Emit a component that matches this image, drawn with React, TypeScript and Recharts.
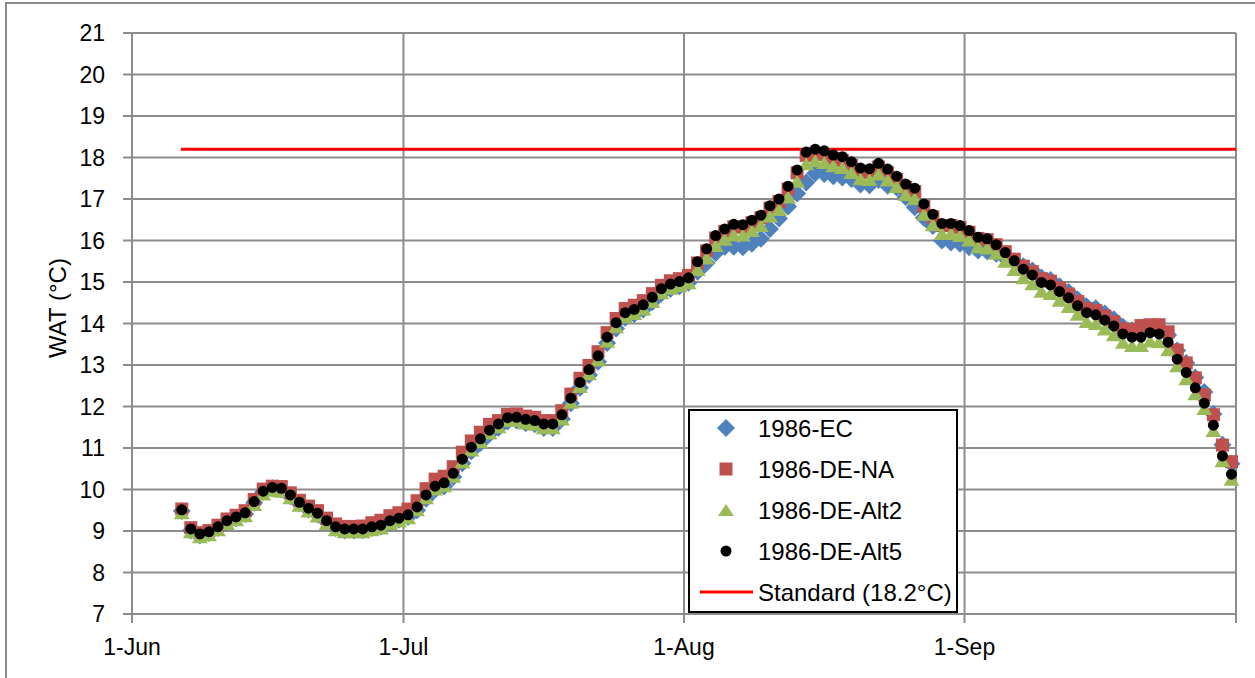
import React from "react";
import {CartesianGrid, Legend, Scatter, ScatterChart, XAxis, YAxis} from "recharts";

// x axis: days since 1-Jun, ticks on the first of each month
const monthTicks = [0, 30, 61, 92, 122]
const monthLabels = ['1-Jun', '1-Jul', '1-Aug', '1-Sep', '']
const tempTicks = [7, 8, 9, 10, 11, 12, 13, 14, 15, 16, 17, 18, 19, 20, 21]

// daily values from 6-Jun to 30-Sep (plotted at noon)
const firstDay = 5.5

const ec = [
  9.48, 9.01, 8.89, 8.95, 9.07, 9.22, 9.31, 9.41, 9.68, 9.94,
  10.03, 10.00, 9.84, 9.66, 9.52, 9.40, 9.22, 9.07, 9.01, 9.01,
  9.02, 9.07, 9.11, 9.21, 9.27, 9.34, 9.50, 9.78, 10.00, 10.08,
  10.30, 10.63, 10.92, 11.12, 11.34, 11.49, 11.64, 11.66, 11.60, 11.57,
  11.48, 11.48, 11.70, 12.08, 12.45, 12.76, 13.08, 13.53, 13.88, 14.14,
  14.23, 14.34, 14.52, 14.72, 14.83, 14.90, 14.98, 15.25, 15.46, 15.70,
  15.85, 15.85, 15.84, 15.92, 16.04, 16.28, 16.53, 16.82, 17.13, 17.40,
  17.62, 17.60, 17.55, 17.52, 17.48, 17.35, 17.33, 17.46, 17.32, 17.28,
  17.05, 16.80, 16.55, 16.35, 16.00, 15.95, 15.92, 15.84, 15.76, 15.74,
  15.68, 15.58, 15.50, 15.38, 15.28, 15.11, 15.05, 14.90, 14.76, 14.58,
  14.41, 14.37, 14.24, 14.10, 13.92, 13.84, 13.84, 13.88, 13.88, 13.72,
  13.35, 13.05, 12.70, 12.35, 11.82, 11.08, 10.62
]

const deNa = [
  9.53, 9.08, 8.96, 9.01, 9.14, 9.29, 9.38, 9.49, 9.76, 10.01,
  10.08, 10.07, 9.92, 9.74, 9.60, 9.49, 9.31, 9.17, 9.11, 9.11,
  9.12, 9.20, 9.26, 9.37, 9.44, 9.53, 9.73, 10.02, 10.25, 10.32,
  10.55, 10.90, 11.17, 11.38, 11.57, 11.66, 11.81, 11.82, 11.77, 11.74,
  11.66, 11.66, 11.90, 12.30, 12.68, 12.99, 13.32, 13.78, 14.12, 14.36,
  14.44, 14.55, 14.72, 14.92, 15.03, 15.08, 15.16, 15.46, 15.75, 16.06,
  16.22, 16.33, 16.32, 16.43, 16.55, 16.78, 16.94, 17.24, 17.63, 18.05,
  18.10, 18.07, 17.97, 17.93, 17.81, 17.66, 17.64, 17.77, 17.63, 17.47,
  17.28, 17.18, 16.82, 16.57, 16.36, 16.36, 16.31, 16.20, 16.05, 16.02,
  15.90, 15.73, 15.55, 15.38, 15.25, 15.08, 15.02, 14.86, 14.71, 14.53,
  14.36, 14.31, 14.18, 14.04, 13.87, 13.85, 13.95, 13.97, 13.97, 13.80,
  13.36, 13.05, 12.69, 12.28, 11.80, 11.07, 10.67
]

const deAlt2 = [
  9.44, 8.98, 8.86, 8.91, 9.03, 9.18, 9.27, 9.37, 9.64, 9.89,
  9.98, 9.96, 9.80, 9.62, 9.48, 9.36, 9.18, 9.03, 8.98, 8.98,
  8.98, 9.03, 9.07, 9.18, 9.24, 9.32, 9.51, 9.80, 10.01, 10.09,
  10.32, 10.66, 10.95, 11.15, 11.36, 11.51, 11.66, 11.66, 11.60, 11.57,
  11.49, 11.49, 11.70, 12.10, 12.48, 12.79, 13.12, 13.57, 13.92, 14.16,
  14.24, 14.35, 14.53, 14.74, 14.85, 14.91, 14.98, 15.30, 15.58, 15.88,
  16.03, 16.14, 16.13, 16.24, 16.36, 16.59, 16.75, 17.05, 17.43, 17.85,
  17.92, 17.88, 17.80, 17.76, 17.64, 17.49, 17.47, 17.60, 17.46, 17.30,
  17.11, 17.01, 16.63, 16.38, 16.17, 16.17, 16.12, 16.01, 15.85, 15.82,
  15.69, 15.50, 15.30, 15.10, 14.96, 14.78, 14.72, 14.56, 14.41, 14.22,
  14.05, 14.00, 13.87, 13.73, 13.55, 13.47, 13.47, 13.58, 13.56, 13.37,
  12.98, 12.67, 12.31, 11.95, 11.42, 10.69, 10.25
]

const deAlt5 = [
  9.51, 9.05, 8.93, 8.98, 9.10, 9.25, 9.34, 9.44, 9.71, 9.96,
  10.05, 10.03, 9.87, 9.69, 9.55, 9.43, 9.25, 9.10, 9.05, 9.05,
  9.05, 9.10, 9.14, 9.25, 9.31, 9.39, 9.58, 9.87, 10.08, 10.16,
  10.39, 10.73, 11.02, 11.22, 11.43, 11.58, 11.73, 11.74, 11.69, 11.66,
  11.58, 11.58, 11.80, 12.20, 12.58, 12.89, 13.22, 13.67, 14.02, 14.26,
  14.34, 14.45, 14.63, 14.84, 14.95, 15.01, 15.10, 15.49, 15.80, 16.12,
  16.28, 16.39, 16.38, 16.49, 16.61, 16.84, 17.00, 17.31, 17.70, 18.13,
  18.20, 18.16, 18.06, 18.02, 17.90, 17.75, 17.73, 17.86, 17.72, 17.55,
  17.36, 17.26, 16.88, 16.63, 16.41, 16.41, 16.36, 16.24, 16.08, 16.04,
  15.90, 15.71, 15.51, 15.31, 15.17, 14.99, 14.93, 14.77, 14.62, 14.43,
  14.26, 14.21, 14.08, 13.94, 13.75, 13.67, 13.67, 13.78, 13.75, 13.55,
  13.14, 12.82, 12.45, 12.08, 11.55, 10.81, 10.37
]

const standardValue = 18.2
const standardDays = [5.4, 122]

const seriesNames = ['1986-EC', '1986-DE-NA', '1986-DE-Alt2', '1986-DE-Alt5', 'Standard (18.2°C)']

const FONT = "'Liberation Sans', Arial, sans-serif"
const GRID = '#8C8C8C'
const BLUE = '#4F81BD'
const RED = '#C0504D'
const GREEN = '#9BBB59'

function toPoints(values: number[]) {
  return values.map((value, i) => ({day: firstDay + i, value}))
}

const standardPoints = standardDays.map(day => ({day, value: standardValue}))


//  MARKERS

function diamond(cx: number, cy: number, color: string, h = 9) {
  return <polygon points={`${cx},${cy - h} ${cx + h},${cy} ${cx},${cy + h} ${cx - h},${cy}`} fill={color}/>
}

function square(cx: number, cy: number, color: string, s = 13) {
  return <rect x={cx - s / 2} y={cy - s / 2} width={s} height={s} fill={color}/>
}

function triangle(cx: number, cy: number, color: string, w = 16, h = 13) {
  return <polygon points={`${cx},${cy - h / 2} ${cx + w / 2},${cy + h / 2} ${cx - w / 2},${cy + h / 2}`} fill={color}/>
}

function dot(cx: number, cy: number, color: string, r = 5.5) {
  return <circle cx={cx} cy={cy} r={r} fill={color}/>
}


//  LEGEND

function WatLegend() {
  const rowY = [17, 58, 99, 140, 181]
  const mx = 36
  return (
    <div style={{width: 266, height: 200, border: '2px solid #000', background: '#fff'}}>
      <svg width={266} height={200} style={{display: 'block'}}>
        {diamond(mx, rowY[0], BLUE, 9)}
        {square(mx, rowY[1], RED, 13)}
        {triangle(mx, rowY[2], GREEN, 16, 12)}
        {dot(mx, rowY[3], '#000', 5.5)}
        <line x1={10} x2={63} y1={rowY[4]} y2={rowY[4]} stroke="#FF0000" strokeWidth={3}/>
        {seriesNames.map((name, i) => (
          <text key={name} x={68} y={rowY[i]} dy="0.36em" fontSize={24} fontFamily={FONT} fill="#000">{name}</text>
        ))}
      </svg>
    </div>
  )
}


//  RENDER

export default function App() {
  return (
    <div style={{position: 'fixed', left: 0, top: 0, width: 1255, height: 678, overflow: 'hidden', background: '#fff'}}>
      <div style={{position: 'absolute', left: 5, top: 2, width: 1400, height: 800, border: `2px solid ${GRID}`}}/>
      <div style={{position: 'absolute', left: 0, top: 0}}>
        <ScatterChart width={1255} height={678} margin={{top: 33, right: 19, bottom: 0, left: 0}}>
          <CartesianGrid stroke={GRID} strokeWidth={2}/>
          <XAxis
            type="number"
            dataKey="day"
            domain={[0, 122]}
            ticks={monthTicks}
            interval={0}
            tickFormatter={(v: number) => monthLabels[monthTicks.indexOf(v)] ?? ''}
            height={64}
            tickSize={9}
            tickMargin={16}
            axisLine={{stroke: GRID, strokeWidth: 2}}
            tickLine={{stroke: GRID, strokeWidth: 2}}
            tick={{fill: '#000', fontSize: 23, fontFamily: FONT}}
          />
          <YAxis
            type="number"
            dataKey="value"
            domain={[7, 21]}
            ticks={tempTicks}
            interval={0}
            width={132}
            tickSize={9}
            tickMargin={18}
            axisLine={{stroke: GRID, strokeWidth: 2}}
            tickLine={{stroke: GRID, strokeWidth: 2}}
            tick={{fill: '#000', fontSize: 23, fontFamily: FONT}}
            label={{
              content: () => (
                <text x={57} y={308} transform="rotate(-90 57 308)" textAnchor="middle" dominantBaseline="central"
                      fontSize={24} fontFamily={FONT} fill="#000">WAT (°C)</text>
              )
            }}
          />
          <Scatter name={seriesNames[4]} data={standardPoints} isAnimationActive={false}
                   line={{stroke: '#FF0000', strokeWidth: 3}} shape={() => <g/>}/>
          <Scatter name={seriesNames[0]} data={toPoints(ec)} isAnimationActive={false}
                   shape={(p: any) => diamond(p.cx, p.cy, BLUE)}/>
          <Scatter name={seriesNames[1]} data={toPoints(deNa)} isAnimationActive={false}
                   shape={(p: any) => square(p.cx, p.cy, RED)}/>
          <Scatter name={seriesNames[2]} data={toPoints(deAlt2)} isAnimationActive={false}
                   shape={(p: any) => triangle(p.cx, p.cy, GREEN)}/>
          <Scatter name={seriesNames[3]} data={toPoints(deAlt5)} isAnimationActive={false}
                   shape={(p: any) => dot(p.cx, p.cy, '#000')}/>
          <Legend
            layout="vertical"
            align="center"
            verticalAlign="middle"
            content={() => <WatLegend/>}
            wrapperStyle={{left: 688, top: 409, width: 270, height: 204}}
          />
        </ScatterChart>
      </div>
    </div>
  )
}
